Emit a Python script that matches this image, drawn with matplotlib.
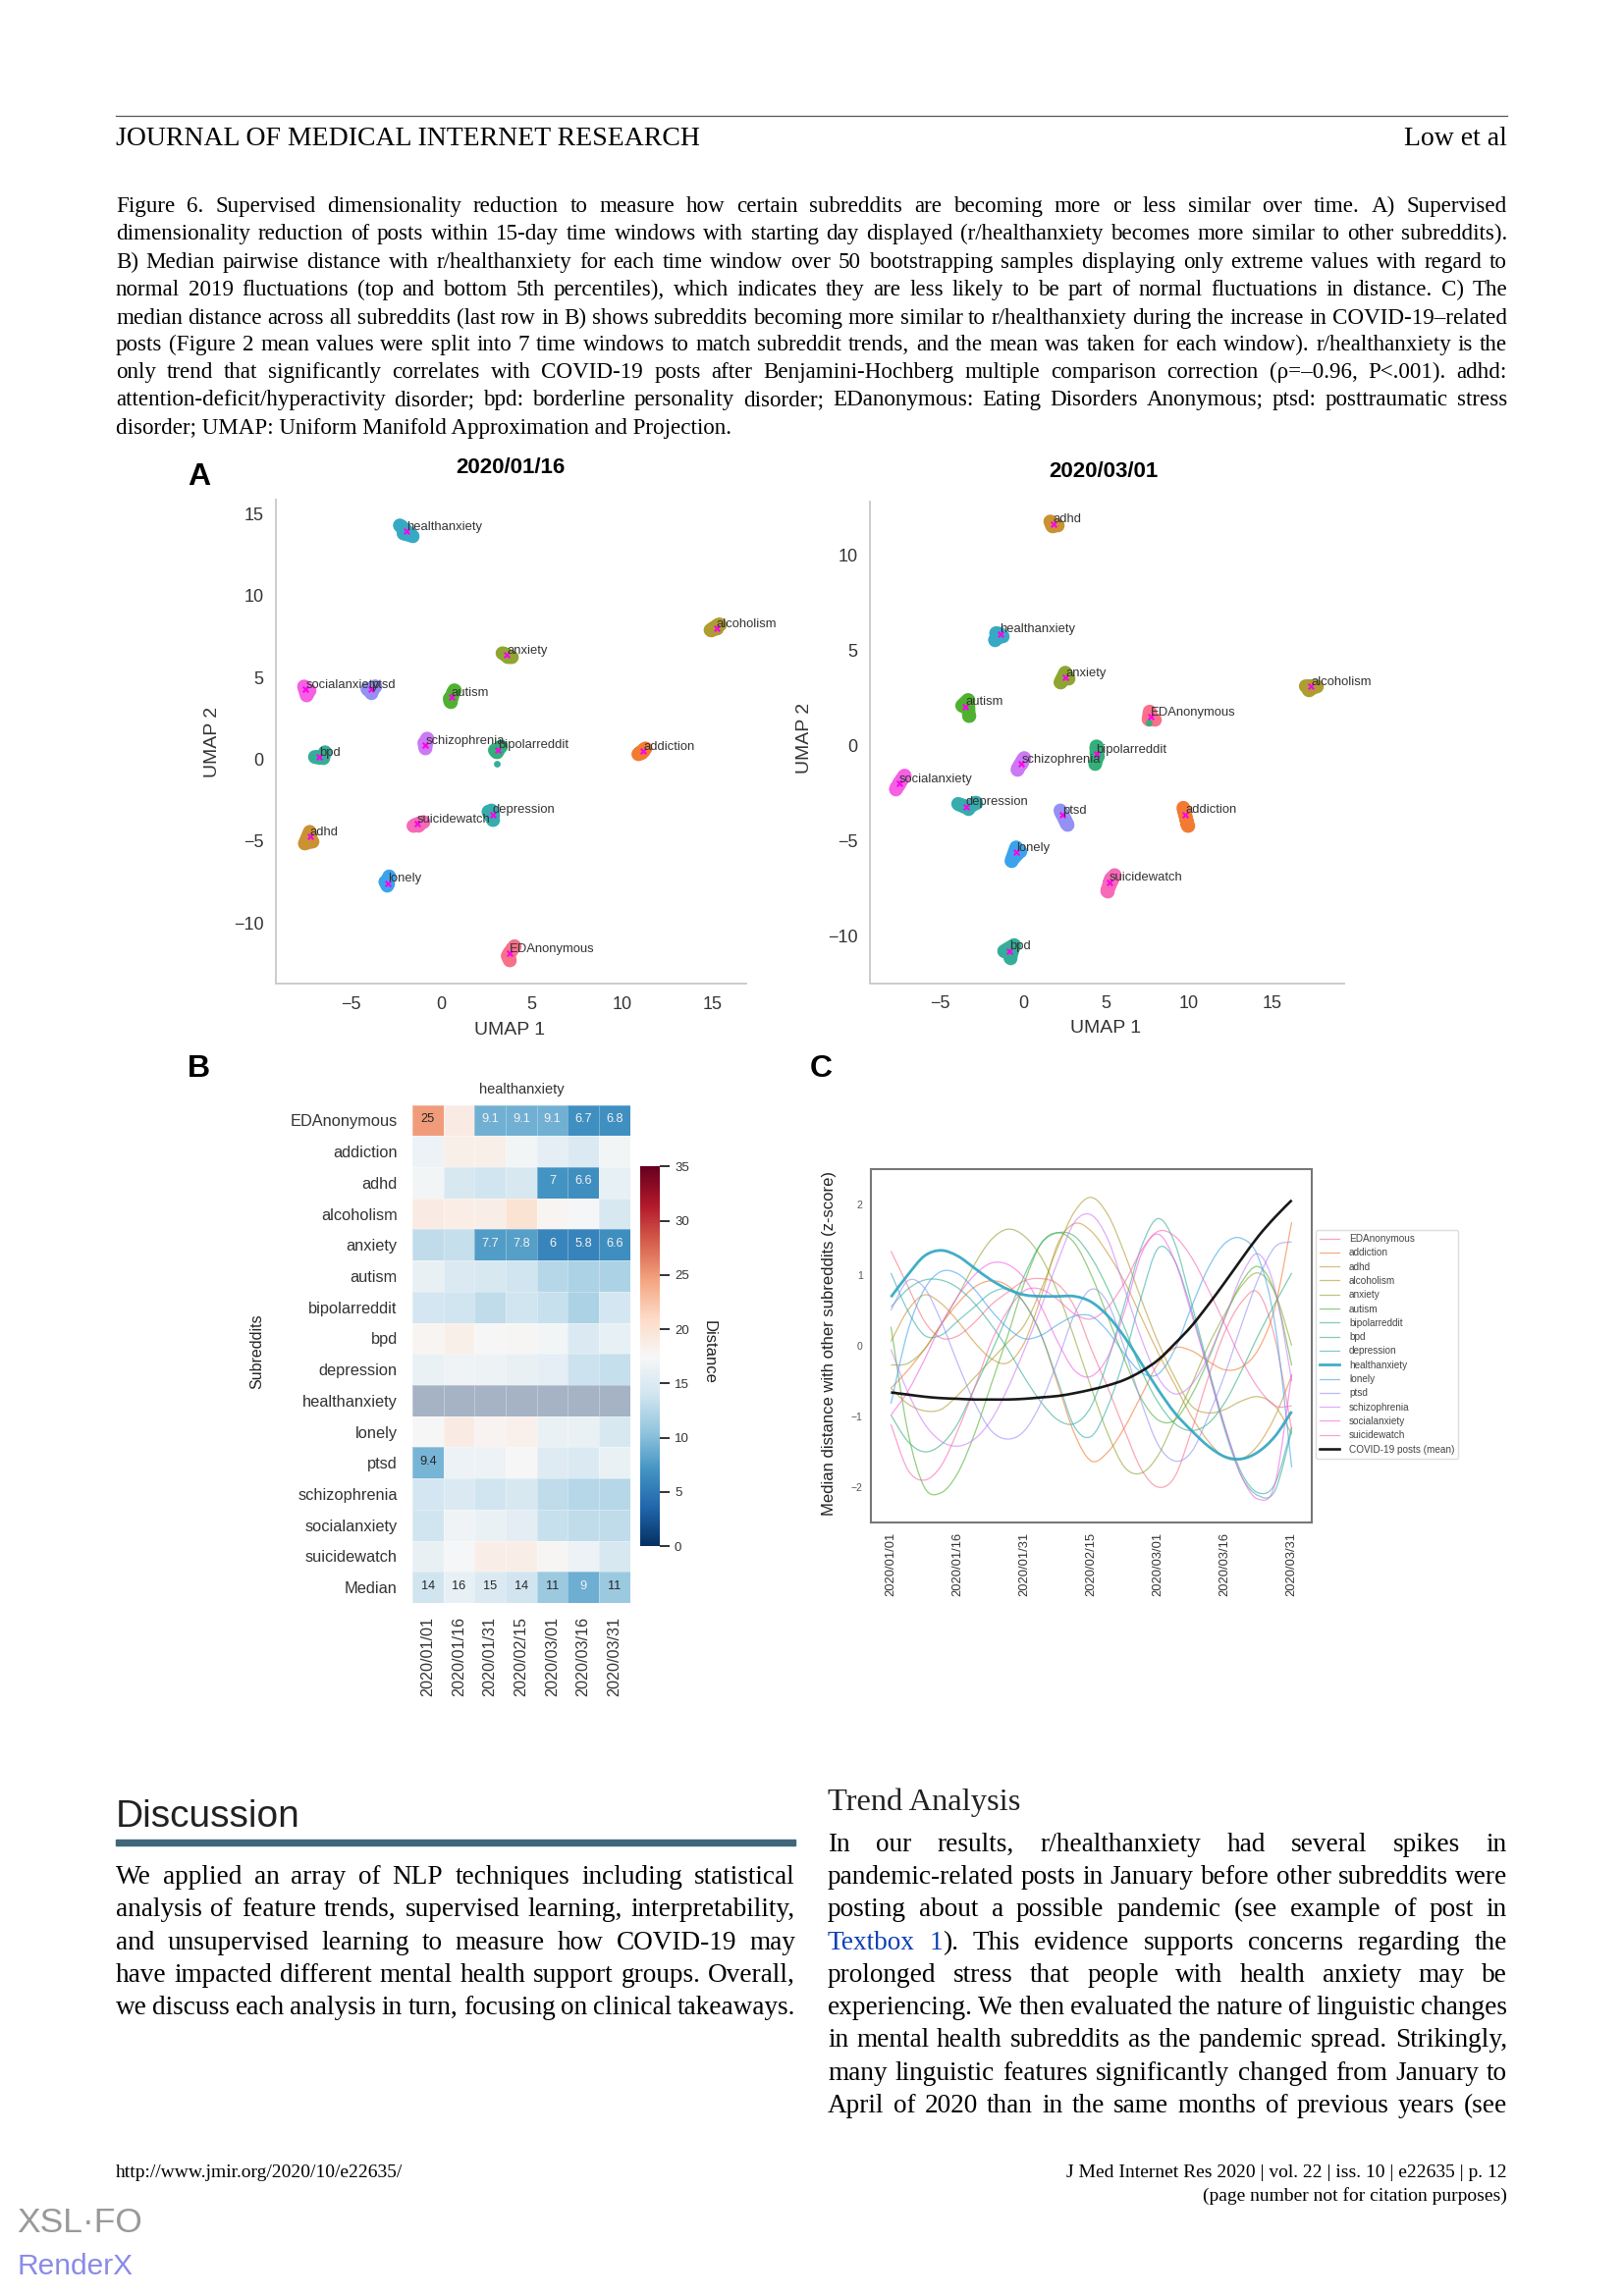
import numpy as np
import matplotlib
matplotlib.use("Agg")
import matplotlib.pyplot as plt
from matplotlib.lines import Line2D
from matplotlib.patches import PathPatch
from matplotlib.path import Path
import seaborn as sns

W, H = 1654, 2339
SERIF = "Liberation Serif"
SANS = "Liberation Sans"
plt.rcParams["font.family"] = SANS

# ---------- data ----------
subreddits = ["EDAnonymous", "addiction", "adhd", "alcoholism", "anxiety", "autism",
              "bipolarreddit", "bpd", "depression", "healthanxiety", "lonely", "ptsd",
              "schizophrenia", "socialanxiety", "suicidewatch"]
colors = sns.color_palette("husl", 15)

# first point of each cluster is the magenta centre
umap_jan16 = [
    [(3.77, -11.84), (4.04, -11.43), (3.66, -12.03), (3.77, -12.3)],
    [(11.17, 0.5), (10.88, 0.31), (11.28, 0.66), (11.05, 0.4)],
    [(-7.26, -4.74), (-7.28, -4.44), (-7.55, -5.15), (-7.15, -5.03)],
    [(15.2, 8.0), (14.87, 7.9), (15.36, 8.25), (15.0, 7.95)],
    [(3.62, 6.38), (3.37, 6.48), (3.88, 6.24), (3.65, 6.25)],
    [(0.55, 3.82), (0.71, 4.22), (0.49, 3.51), (0.45, 3.7)],
    [(3.11, 0.59), (3.29, 0.78), (3.04, 0.43), (2.95, 0.55)],
    [(-6.77, 0.12), (-7.0, 0.14), (-6.55, 0.07), (-6.44, 0.43)],
    [(2.82, -3.37), (2.77, -3.13), (2.84, -3.72), (2.6, -3.2)],
    [(-1.93, 13.92), (-2.3, 14.3), (-1.6, 13.65), (-2.1, 13.8)],
    [(-2.97, -7.57), (-2.89, -7.16), (-3.0, -7.71), (-3.1, -7.5)],
    [(-3.88, 4.27), (-3.66, 4.46), (-3.88, 4.06), (-4.1, 4.3)],
    [(-0.89, 0.85), (-0.8, 1.26), (-0.89, 0.66), (-0.95, 1.0)],
    [(-7.5, 4.27), (-7.6, 4.45), (-7.45, 3.9), (-7.3, 4.2)],
    [(-1.33, -3.96), (-1.55, -4.08), (-1.0, -3.84), (-1.3, -4.05)],
]
umap_mar01 = [
    [(7.71, 1.49), (7.63, 1.77), (7.56, 1.36), (7.92, 1.36)],
    [(9.78, -3.63), (9.66, -3.28), (9.93, -4.24), (9.85, -3.9)],
    [(1.84, 11.63), (1.64, 11.75), (1.76, 11.5), (2.08, 11.55)],
    [(17.34, 3.08), (17.03, 3.1), (17.7, 3.1), (17.2, 2.9)],
    [(2.56, 3.54), (2.25, 3.3), (2.54, 3.81), (2.73, 3.5)],
    [(-3.48, 2.04), (-3.67, 2.08), (-3.31, 2.38), (-3.26, 1.53)],
    [(4.42, -0.47), (4.42, -0.06), (4.49, -0.57), (4.35, -0.98)],
    [(-0.82, -10.79), (-1.14, -10.81), (-0.53, -10.49), (-0.77, -11.16)],
    [(-3.43, -3.22), (-3.91, -3.08), (-3.31, -3.32), (-2.83, -3.01)],
    [(-1.38, 5.85), (-1.62, 5.89), (-1.26, 5.74), (-1.69, 5.54)],
    [(-0.41, -5.62), (-0.41, -5.36), (-0.7, -6.07), (-0.17, -5.56)],
    [(2.39, -3.67), (2.25, -3.42), (2.68, -4.18), (2.5, -3.85)],
    [(-0.1, -0.98), (0.07, -0.67), (-0.34, -1.28), (-0.05, -0.85)],
    [(-7.46, -2.0), (-7.13, -1.59), (-7.66, -2.3), (-7.55, -2.15)],
    [(5.22, -7.19), (5.51, -6.82), (5.07, -7.66), (5.3, -7.0)],
]
# single stray posts (x, y, subreddit index)
strays_jan16 = [(3.04, -0.28, 7)]
strays_mar01 = [(7.6, 1.18, 6)]

dates = ["2020/01/01", "2020/01/16", "2020/01/31", "2020/02/15",
         "2020/03/01", "2020/03/16", "2020/03/31"]
heat_rows = subreddits + ["Median"]
heat_values = [
    [25, 19, 9.1, 9.1, 9.1, 6.7, 6.8],
    [16.5, 18.5, 18.5, 17, 15.8, 14.8, 17],
    [17, 14.5, 14, 14.5, 7, 6.6, 16],
    [19, 18.8, 18.7, 20, 17.8, 17.3, 14.5],
    [13, 13.3, 7.7, 7.8, 6, 5.8, 6.6],
    [16.2, 14.8, 14.5, 14, 12.5, 12, 12],
    [14.3, 14, 13, 14, 13.5, 12, 14.3],
    [17.8, 18.5, 17.5, 17.7, 17, 15, 16],
    [16.3, 16.8, 16.6, 16.2, 15.8, 13.8, 13.3],
    [np.nan] * 7,
    [17.6, 19, 18, 18.4, 16.3, 16.3, 14.5],
    [9.4, 16.5, 16.5, 17.6, 15.3, 14.8, 16.3],
    [14.3, 15, 14, 14.6, 13, 12.5, 12.5],
    [14, 16.7, 16.3, 15.7, 13.5, 13, 13],
    [16.2, 17.3, 18.7, 18.7, 17.7, 16.5, 14.5],
    [14, 16, 15, 14, 11, 9, 11],
]
# (row, column, text) of the printed cells
heat_notes = [(0, 0, "25"), (0, 2, "9.1"), (0, 3, "9.1"), (0, 4, "9.1"), (0, 5, "6.7"), (0, 6, "6.8"),
              (2, 4, "7"), (2, 5, "6.6"), (4, 2, "7.7"), (4, 3, "7.8"), (4, 4, "6"), (4, 5, "5.8"),
              (4, 6, "6.6"), (11, 0, "9.4"), (15, 0, "14"), (15, 1, "16"), (15, 2, "15"),
              (15, 3, "14"), (15, 4, "11"), (15, 5, "9"), (15, 6, "11")]
heat_dark_notes = {(0, 0), (11, 0), (15, 0), (15, 1), (15, 2), (15, 3), (15, 4), (15, 6)}

trend_x = [i * 0.25 for i in range(25)]
trend_ed = [1.34, .85, .35, .11, .14, .33, .58, .76, .92, .95, .87, .55, -.05, -.6, -1.2, -1.75, -2.0, -1.85, -1.2, -.45, .2, .62, .75, .1, -1.2]
trend_addiction = [-.6, -.35, -.05, .3, .6, .83, .92, .85, .6, .15, -.55, -1.25, -1.63, -1.5, -1.15, -.7, -.25, -.03, -.07, -.22, -.34, -.3, -.05, .55, 1.75]
trend_adhd = [.06, .5, .72, .6, .35, .05, -.18, -.24, .05, .7, 1.45, 1.73, 1.62, 1.3, .9, .4, -.1, -.55, -1.0, -1.35, -1.58, -1.6, -1.4, -1.0, -.42]
trend_alcoholism = [-.6, -.82, -.92, -.9, -.7, -.45, -.2, .05, .3, .8, 1.4, 1.9, 2.1, 1.85, 1.3, .65, .05, -.45, -.85, -.95, -.9, -.78, -.72, -.85, -1.25]
trend_anxiety = [-.27, -.25, -.05, .3, .7, 1.15, 1.5, 1.65, 1.55, 1.25, .75, .1, -.6, -1.25, -1.72, -1.8, -1.55, -1.05, -.55, 0, .45, .85, 1.03, .75, 0]
trend_autism = [.27, -1.2, -2.0, -2.08, -1.8, -1.25, -.55, .15, .9, 1.45, 1.6, 1.45, 1.0, .4, -.2, -.75, -1.05, -1.05, -.7, -.2, .4, .9, 1.12, .75, -.28]
trend_bipolar = [-.98, -1.35, -1.5, -1.4, -1.1, -.6, -.1, .45, 1.0, 1.45, 1.6, 1.55, 1.25, .8, .25, -.35, -.8, -1.1, -1.2, -1.1, -.8, -.35, .15, .6, 1.03]
trend_bpd = [.55, .8, .93, .93, .82, .6, .3, -.05, -.45, -.8, -1.05, -1.1, -.85, -.2, .6, 1.4, 1.8, 1.45, .6, -.3, -1.15, -1.8, -2.08, -1.95, -1.15]
trend_depression = [1.03, .5, .15, .15, .35, .55, .75, .8, .6, .15, -.5, -1.15, -1.28, -.85, -.15, .7, 1.38, 1.2, .5, -.35, -1.2, -1.85, -2.12, -2.05, -1.2]
trend_health = [.69, 1.0, 1.27, 1.35, 1.27, 1.1, .93, .8, .72, .7, .7, .7, .62, .42, .12, -.25, -.62, -.95, -1.2, -1.42, -1.57, -1.6, -1.5, -1.28, -.93]
trend_lonely = [-.82, .2, .8, 1.05, 1.02, .8, .5, .25, .1, .15, .3, .42, .42, .2, -.12, -.38, -.4, -.05, .55, 1.1, 1.45, 1.52, 1.25, .3, -1.72]
trend_ptsd = [.5, .92, .82, .35, -.25, -.8, -1.2, -1.32, -1.2, -.8, -.2, .45, .8, .6, -.05, -.8, -1.4, -1.63, -1.5, -1.0, -.4, .3, .95, 1.4, 1.47]
trend_schizo = [-.05, -.65, -1.1, -1.35, -1.42, -1.32, -1.05, -.6, -.05, .55, 1.2, 1.75, 1.85, 1.5, .8, .1, -.45, -.68, -.55, -.15, .4, 1.0, 1.3, .8, -.5]
trend_social = [-.98, -.65, -.2, .3, .7, 1.0, 1.17, 1.15, .95, .55, .05, -.35, -.43, -.15, .5, 1.3, 1.58, 1.2, .45, -.35, -1.15, -1.85, -2.17, -1.95, -.4]
trend_suicide = [-1.11, -1.75, -1.9, -1.7, -1.2, -.6, .05, .5, .78, .8, .65, .45, .38, .55, .9, 1.35, 1.62, 1.55, 1.25, .8, .3, -.2, -.6, -.85, -.85]
trend_covid = [-.66, -.69, -.72, -.74, -.75, -.76, -.76, -.76, -.75, -.73, -.71, -.67, -.62, -.56, -.48, -.36, -.2, .03, .28, .58, .9, 1.23, 1.55, 1.82, 2.06]
trends = [trend_ed, trend_addiction, trend_adhd, trend_alcoholism, trend_anxiety, trend_autism,
          trend_bipolar, trend_bpd, trend_depression, trend_health, trend_lonely, trend_ptsd,
          trend_schizo, trend_social, trend_suicide]

caption_lines = [
    "Figure 6.  Supervised dimensionality reduction to measure how certain subreddits are becoming more or less similar over time. A) Supervised",
    "dimensionality reduction of posts within 15-day time windows with starting day displayed (r/healthanxiety becomes more similar to other subreddits).",
    "B) Median pairwise distance with r/healthanxiety for each time window over 50 bootstrapping samples displaying only extreme values with regard to",
    "normal 2019 fluctuations (top and bottom 5th percentiles), which indicates they are less likely to be part of normal fluctuations in distance. C) The",
    "median distance across all subreddits (last row in B) shows subreddits becoming more similar to r/healthanxiety during the increase in COVID-19–related",
    "posts (Figure 2 mean values were split into 7 time windows to match subreddit trends, and the mean was taken for each window). r/healthanxiety is the",
    "only trend that significantly correlates with COVID-19 posts after Benjamini-Hochberg multiple comparison correction (ρ=–0.96, P<.001). adhd:",
    "attention-deficit/hyperactivity disorder; bpd: borderline personality disorder; EDanonymous: Eating Disorders Anonymous; ptsd: posttraumatic stress",
]
caption_last = "disorder; UMAP: Uniform Manifold Approximation and Projection."
discussion_lines = [
    "We applied an array of NLP techniques including statistical",
    "analysis of feature trends, supervised learning, interpretability,",
    "and unsupervised learning to measure how COVID-19 may",
    "have impacted different mental health support groups. Overall,",
    "we discuss each analysis in turn, focusing on clinical takeaways.",
]
trend_lines = [
    "In our results, r/healthanxiety had several spikes in",
    "pandemic-related posts in January before other subreddits were",
    "posting about a possible pandemic (see example of post in",
    "Textbox 1|). This evidence supports concerns regarding the",
    "prolonged stress that people with health anxiety may be",
    "experiencing. We then evaluated the nature of linguistic changes",
    "in mental health subreddits as the pandemic spread. Strikingly,",
    "many linguistic features significantly changed from January to",
    "April of 2020 than in the same months of previous years (see",
]

# ---------- page helpers (pixel positions on the page) ----------
fig = plt.figure(figsize=(W / 100, H / 100), dpi=100, facecolor="white")
renderer = fig.canvas.get_renderer()


def page_text(x, y, s, **kw):
    return fig.text(x / W, 1 - y / H, s, **kw)


def axes_at(left, top, right, bottom):
    return fig.add_axes([left / W, 1 - bottom / H, (right - left) / W, (bottom - top) / H])


def justified(line, x0, x1, y, size, blue=()):
    # a | inside a word glues two differently coloured pieces together
    words = [[page_text(x0, y, part, family=SERIF, fontsize=size, va="baseline",
                        color="#0b3fb5" if part in blue else "black")
              for part in w.split("|")] for w in line.split()]
    widths = [sum(t.get_window_extent(renderer).width for t in parts) for parts in words]
    gap = (x1 - x0 - sum(widths)) / max(len(words) - 1, 1)
    x = x0
    for parts, w in zip(words, widths):
        px = x
        for t in parts:
            t.set_x(px / W)
            px += t.get_window_extent(renderer).width
        x += w + gap


def smooth_curve(xs, ys):
    # pen path through every read point (Catmull-Rom handles), for drawing only
    xs, ys = np.asarray(xs, float), np.asarray(ys, float)
    verts, codes = [(xs[0], ys[0])], [Path.MOVETO]
    for i in range(len(xs) - 1):
        a, b = max(i - 1, 0), min(i + 2, len(xs) - 1)
        verts.append((xs[i] + (xs[i + 1] - xs[a]) / 6, ys[i] + (ys[i + 1] - ys[a]) / 6))
        verts.append((xs[i + 1] - (xs[b] - xs[i]) / 6, ys[i + 1] - (ys[b] - ys[i]) / 6))
        verts.append((xs[i + 1], ys[i + 1]))
        codes += [Path.CURVE4] * 3
    return Path(verts, codes)


# ---------- header, caption ----------
fig.add_artist(plt.Line2D([118 / W, 1535 / W], [1 - 118 / H] * 2, color="#555555", lw=0.9))
page_text(118, 148, "JOURNAL OF MEDICAL INTERNET RESEARCH", family=SERIF, fontsize=20, va="baseline")
page_text(1535, 148, "Low et al", family=SERIF, fontsize=20, va="baseline", ha="right")
caption_y = [216, 244, 273, 301, 330, 357, 385, 413, 442]
for line, y in zip(caption_lines, caption_y):
    justified(line, 118, 1535, y, 16.6)
page_text(118, caption_y[-1], caption_last, family=SERIF, fontsize=16.6, va="baseline")


# ---------- panel A ----------
def umap_panel(box, clusters, strays, xlim, ylim, xticks, yticks):
    ax = axes_at(*box)
    for pts, c in zip(clusters, colors):
        xs, ys = [p[0] for p in pts], [p[1] for p in pts]
        # thick round strokes so the posts of one subreddit merge into one blob
        ax.plot(xs, ys, color=c, lw=10, solid_capstyle="round", solid_joinstyle="round")
        ax.scatter(xs, ys, s=95, color=c, linewidths=0)
    for x, y, k in strays:
        ax.scatter(x, y, s=24, color=colors[k], linewidths=0, zorder=3)
    for pts, name in zip(clusters, subreddits):
        ax.scatter(pts[0][0], pts[0][1], s=16, marker="x", color="#ff00ee", linewidths=1.5, zorder=4)
        ax.annotate(name, pts[0], xytext=(0, 3), textcoords="offset points", fontsize=9.4,
                    color="#333333", ha="left", va="center", zorder=5)
    ax.set_xlim(xlim)
    ax.set_ylim(ylim)
    ax.set_xticks(xticks)
    ax.set_yticks(yticks)
    ax.tick_params(length=0, labelsize=13, labelcolor="#333333", pad=9)
    for side in ("top", "right"):
        ax.spines[side].set_visible(False)
    for side in ("left", "bottom"):
        ax.spines[side].set_color("#cccccc")
        ax.spines[side].set_linewidth(1.4)
    return ax


umap_panel((281, 509, 760, 1002), umap_jan16, strays_jan16, (-9.15, 16.85), (-13.72, 15.87),
           [-5, 0, 5, 10, 15], [-10, -5, 0, 5, 10, 15])
umap_panel((886, 511, 1369, 1001.5), umap_mar01, strays_mar01, (-9.22, 19.35), (-12.49, 12.79),
           [-5, 0, 5, 10, 15], [-10, -5, 0, 5, 10])
page_text(520, 477, "2020/01/16", fontsize=16, fontweight="bold", ha="center", va="center")
page_text(1124, 480, "2020/03/01", fontsize=16, fontweight="bold", ha="center", va="center")
page_text(519, 1049, "UMAP 1", fontsize=14, color="#333333", ha="center", va="center")
page_text(1126, 1048, "UMAP 1", fontsize=14, color="#333333", ha="center", va="center")
page_text(217, 756, "UMAP 2", fontsize=14, color="#333333", rotation=90, ha="center", va="center")
page_text(820, 752, "UMAP 2", fontsize=14, color="#333333", rotation=90, ha="center", va="center")
page_text(191, 486, "A", fontsize=23, fontweight="bold", va="center")
page_text(191, 1089, "B", fontsize=23, fontweight="bold", va="center")
page_text(825, 1089, "C", fontsize=23, fontweight="bold", va="center")

# ---------- panel B ----------
ax_h = axes_at(420, 1125.5, 641.7, 1633)
cmap = plt.get_cmap("RdBu_r").copy()
cmap.set_bad("#a6b3c5")
mesh = ax_h.pcolormesh(np.ma.masked_invalid(np.array(heat_values)), cmap=cmap, vmin=0, vmax=35,
                       edgecolors=(1, 1, 1, 0.3), linewidth=0.4)
ax_h.invert_yaxis()
ax_h.set_xticks(np.arange(len(dates)) + 0.5)
ax_h.set_xticklabels(dates, rotation=90, fontsize=11.6, color="#333333")
ax_h.set_yticks(np.arange(len(heat_rows)) + 0.5)
ax_h.set_yticklabels(heat_rows, fontsize=11.8, color="#333333")
ax_h.tick_params(length=0, axis="y", pad=11)
ax_h.tick_params(length=0, axis="x", pad=10)
for side in ax_h.spines.values():
    side.set_visible(False)
for r, c, s in heat_notes:
    ax_h.text(c + 0.5, r + 0.45, s, ha="center", va="center", fontsize=9.2,
              color="#262626" if (r, c) in heat_dark_notes else "#f2f2f2")
page_text(531, 1110, "healthanxiety", fontsize=10.5, color="#333333", ha="center", va="center")
page_text(262, 1377, "Subreddits", fontsize=11.5, color="#222222", rotation=90, ha="center", va="center")
page_text(722, 1377, "Distance", fontsize=12, color="#222222", rotation=270, ha="center", va="center")
cax = axes_at(652.3, 1188.4, 671.7, 1575.2)
cbar = fig.colorbar(mesh, cax=cax, ticks=[0, 5, 10, 15, 20, 25, 30, 35])
cbar.outline.set_visible(False)
cbar.ax.tick_params(length=7, width=1.3, labelsize=9.5, labelcolor="#333333", pad=4, color="#222222")

# ---------- panel C ----------
ax_c = axes_at(887, 1191, 1336, 1551)
handles = []
for vals, c, name in zip(trends, colors, subreddits):
    lw, alpha, z = (2.0, 0.95, 3) if name == "healthanxiety" else (0.9, 0.62, 2)
    ax_c.add_patch(PathPatch(smooth_curve(trend_x, vals), fill=False, edgecolor=c, lw=lw, alpha=alpha, zorder=z))
    handles.append(Line2D([], [], color=c, lw=lw, alpha=alpha, label=name))
ax_c.add_patch(PathPatch(smooth_curve(trend_x, trend_covid), fill=False, edgecolor="black", lw=1.9, alpha=0.9, zorder=4))
handles.append(Line2D([], [], color="black", lw=1.9, alpha=0.9, label="COVID-19 posts (mean)"))
ax_c.set_xlim(-0.3, 6.3)
ax_c.set_ylim(-2.5, 2.5)
ax_c.set_xticks(range(len(dates)))
ax_c.set_xticklabels(dates, rotation=90, fontsize=9.3, color="#333333")
ax_c.set_yticks([-2, -1, 0, 1, 2])
ax_c.tick_params(length=0, axis="x", pad=7)
ax_c.tick_params(length=0, axis="y", labelsize=7.5, labelcolor="#555555", pad=6)
for side in ax_c.spines.values():
    side.set_color("#777777")
    side.set_linewidth(1.5)
page_text(845, 1368, "Median distance with other subreddits (z-score)", fontsize=12,
          color="#222222", rotation=90, ha="center", va="center")
ax_c.legend(handles=handles, loc="upper left", bbox_to_anchor=(1340 / W, 1 - 1253 / H),
            bbox_transform=fig.transFigure, borderaxespad=0, fontsize=7.2, labelcolor="#444444",
            handlelength=2.0, labelspacing=0.43, borderpad=0.4, handletextpad=1.0,
            edgecolor="#dddddd", framealpha=1)

# ---------- text below the figure ----------
page_text(118, 1861, "Discussion", fontsize=28, va="baseline", color="#222222")
fig.add_artist(plt.Rectangle((118 / W, 1 - 1880 / H), (810 - 118) / W, 6 / H, color="#41667a",
                             transform=fig.transFigure))
page_text(843, 1844, "Trend Analysis", family=SERIF, fontsize=23.4, va="baseline", color="#222222")
for i, line in enumerate(discussion_lines):
    justified(line, 118, 810, [1919, 1952, 1986, 2019, 2052][i], 19.6)
for i, line in enumerate(trend_lines):
    justified(line, 843, 1535, [1886, 1919, 1952, 1986, 2019, 2052, 2085, 2119, 2152][i], 19.6,
              blue=("Textbox", "1") if i == 3 else ())
page_text(118, 2218, "http://www.jmir.org/2020/10/e22635/", family=SERIF, fontsize=14, va="baseline")
page_text(1535, 2218, "J Med Internet Res 2020 | vol. 22 | iss. 10 | e22635 | p. 12", family=SERIF,
          fontsize=14, va="baseline", ha="right")
page_text(1535, 2242, "(page number not for citation purposes)", family=SERIF, fontsize=14,
          va="baseline", ha="right")
page_text(17, 2274, "XSL·FO", fontsize=25.5, color="#999999", va="baseline")
page_text(17, 2317, "RenderX", fontsize=21.5, color="#8a8ae8", va="baseline")

fig.savefig("out.png", dpi=100)
